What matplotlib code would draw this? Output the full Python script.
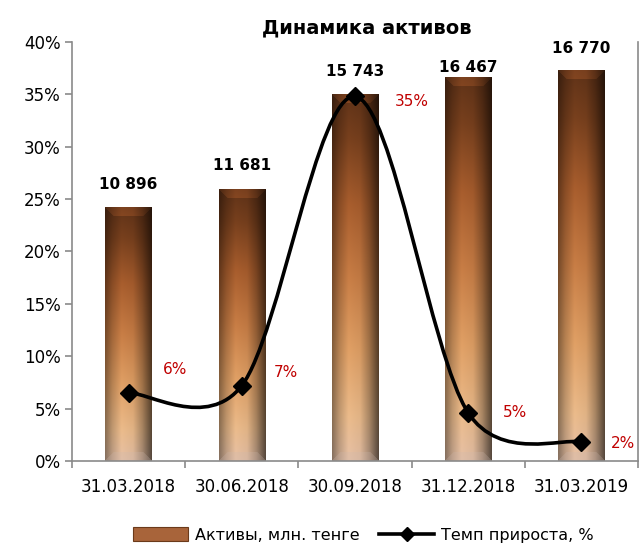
import numpy as np
import matplotlib
matplotlib.use('Agg')
import matplotlib.pyplot as plt
from matplotlib.path import Path
from matplotlib.patches import PathPatch, Patch
from matplotlib.lines import Line2D

plt.rcParams['font.family'] = ['DejaVu Sans']

# ------------------------------------------------------------
# data
# ------------------------------------------------------------
dates = ['31.03.2018', '30.06.2018', '30.09.2018', '31.12.2018', '31.03.2019']
assets = [10896, 11681, 15743, 16467, 16770]          # млн. тенге
growth = [6.5, 7.2, 34.8, 4.6, 1.8]                   # %
growth_labels = ['6%', '7%', '35%', '5%', '2%']

# ------------------------------------------------------------
# helpers
# ------------------------------------------------------------
GRAY = '#8a8a8a'
RED = '#c00000'


def bar_image(h_px, w_px, bevel=9):
    """brown cylinder-like gradient with a bevelled top and bottom"""
    t = np.linspace(0, 1, h_px)[:, None]
    u = np.linspace(0, 1, w_px)[None, :]
    stops = [0.0, 0.12, 0.3, 0.5, 0.7, 0.88, 1.0]
    r = np.interp(t, stops, [0.36, 0.45, 0.63, 0.75, 0.84, 0.88, 0.86])
    g = np.interp(t, stops, [0.19, 0.24, 0.35, 0.47, 0.60, 0.70, 0.72])
    b = np.interp(t, stops, [0.09, 0.11, 0.17, 0.26, 0.38, 0.52, 0.62])
    img = np.dstack([np.broadcast_to(c, (h_px, w_px)) for c in (r, g, b)]).copy()
    shade = np.interp(u, [0, 0.15, 0.35, 0.6, 0.8, 1.0],
                      [0.62, 0.85, 1.05, 1.0, 0.75, 0.4])
    img *= shade[..., None]

    i = np.arange(h_px)[:, None]
    j = np.arange(w_px)[None, :]
    dt, db = i + 0 * j, (h_px - 1 - i) + 0 * j
    dl, dr = j + 0 * i, (w_px - 1 - j) + 0 * i
    top = (dt < bevel) & (dt <= dl) & (dt <= dr)
    bot = (db < bevel) & (db <= dl) & (db <= dr)
    img[top] = np.clip(img[top] * 1.3, 0, 1)
    img[bot] = img[bot] * 0.75 + np.array([0.80, 0.72, 0.68]) * 0.25
    return np.clip(img, 0, 1)


def smooth_path(xs, ys, sx, sy, max_arm=0.5):
    """Excel-like smoothed line: Catmull-Rom bezier, arms clamped to half a segment"""
    P = np.column_stack([np.asarray(xs, float) * sx, np.asarray(ys, float) * sy])
    n = len(P)

    def arm(vec, seg_len):
        L = np.linalg.norm(vec)
        lim = max_arm * seg_len
        return vec * (lim / L) if L > lim else vec

    verts = [P[0]]
    codes = [Path.MOVETO]
    for k in range(n - 1):
        seg = np.linalg.norm(P[k + 1] - P[k])
        prev = P[k - 1] if k > 0 else P[k]
        nxt = P[k + 2] if k + 2 < n else P[k + 1]
        c1 = P[k] + arm((P[k + 1] - prev) / 6, seg)
        c2 = P[k + 1] - arm((nxt - P[k]) / 6, seg)
        verts += [c1, c2, P[k + 1]]
        codes += [Path.CURVE4] * 3
    verts = np.array(verts) / [sx, sy]
    return Path(verts, codes)


# ------------------------------------------------------------
# figure
# ------------------------------------------------------------
W, H = 640, 545
fig = plt.figure(figsize=(W / 100, H / 100), dpi=100)
ax_l, ax_b, ax_w, ax_h = 72, 84, 566, 419
ax = fig.add_axes([ax_l / W, ax_b / H, ax_w / W, ax_h / H])
ax2 = ax.twinx()
ax.set_zorder(2)
ax.patch.set_visible(False)

x = np.arange(len(dates))
ymax_val = 18000

# bars (on secondary, hidden scale)
bars = ax2.bar(x, assets, width=0.41, color='none', edgecolor='none')
for rect in bars:
    h_px = max(int(round(rect.get_height() / ymax_val * ax_h)), 2)
    w_px = int(round(rect.get_width() * ax_w / len(dates)))
    ax2.imshow(bar_image(h_px, w_px), aspect='auto', interpolation='bilinear',
               extent=(rect.get_x(), rect.get_x() + rect.get_width(), 0, rect.get_height()),
               zorder=1)

label_off = [23, 24, 23, 10, 22]
for rect, v, off in zip(bars, assets, label_off):
    ax2.annotate(f'{v:,}'.replace(',', ' '),
                 (rect.get_x() + rect.get_width() / 2, rect.get_height()),
                 xytext=(0, off), textcoords='offset pixels',
                 ha='center', va='center', fontsize=11, fontweight='bold')

ax2.set_ylim(0, ymax_val)
ax2.set_xlim(-0.5, len(dates) - 0.5)

# growth line (smoothed)
path = smooth_path(x, growth, ax_w / len(dates), ax_h / 40)
ax.add_patch(PathPatch(path, facecolor='none', edgecolor='black', lw=2.6,
                       capstyle='round', joinstyle='round', zorder=3))
ax.plot(x, growth, ls='none', marker='D', ms=9, color='black', zorder=4)

pct_off = [(46, 23), (44, 13), (57, -5), (47, 0), (42, -1)]
for xi, g, lab, off in zip(x, growth, growth_labels, pct_off):
    ax.annotate(lab, (xi, g), xytext=off, textcoords='offset pixels',
                ha='center', va='center', fontsize=11, color=RED)

# axes styling
ax.set_ylim(0, 40)
ax.set_xlim(-0.5, len(dates) - 0.5)
ax.set_yticks(np.arange(0, 41, 5))
ax.set_yticklabels([f'{v}%' for v in range(0, 41, 5)])
ax.set_xticks(np.arange(-0.5, len(dates), 1.0))
ax.set_xticklabels([])
ax.set_xticks(x, minor=True)
ax.set_xticklabels(dates, minor=True)
ax.tick_params(axis='x', which='major', length=5, width=1.2, color=GRAY, direction='out')
ax.tick_params(axis='x', which='minor', length=0, labelsize=12, pad=12)
ax.tick_params(axis='y', length=5, width=1.2, color=GRAY, labelsize=12, pad=3)

for side in ('top', 'right'):
    ax.spines[side].set_visible(False)
for side in ('left', 'bottom'):
    ax.spines[side].set_color(GRAY)
    ax.spines[side].set_linewidth(1.2)
for side in ('top', 'left', 'bottom'):
    ax2.spines[side].set_visible(False)
ax2.spines['right'].set_color(GRAY)
ax2.spines['right'].set_linewidth(1.2)
ax2.tick_params(right=False, labelright=False)

fig.text(367 / W, 1 - 28 / H, 'Динамика активов', ha='center', va='center',
         fontsize=14, fontweight='bold')

handles = [Patch(facecolor='#a8643a', edgecolor='#6b3a1a', lw=0.8),
           Line2D([], [], color='black', lw=2.6, marker='D', ms=7)]
fig.legend(handles, ['Активы, млн. тенге', 'Темп прироста, %'],
           loc='center', bbox_to_anchor=(363 / W, 1 - 535 / H), ncol=2,
           frameon=False, fontsize=11.5, handlelength=3.5, handleheight=0.9,
           handletextpad=0.4, columnspacing=1.2)

fig.savefig('out.png', dpi=100)
